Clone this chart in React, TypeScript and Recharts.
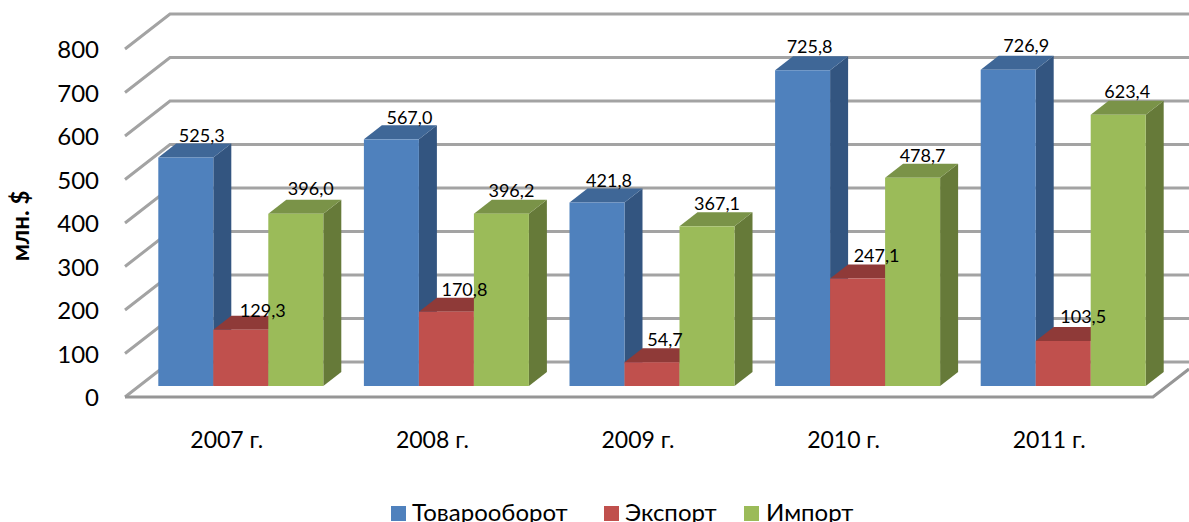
import * as React from "react";
import { BarChart, Bar, XAxis, YAxis, CartesianGrid, LabelList } from "recharts";

const categories = ["2007 г.", "2008 г.", "2009 г.", "2010 г.", "2011 г."];
const turnover = [525.3, 567.0, 421.8, 725.8, 726.9];
const exportValues = [129.3, 170.8, 54.7, 247.1, 103.5];
const importValues = [396.0, 396.2, 367.1, 478.7, 623.4];
const yTicks = [0, 100, 200, 300, 400, 500, 600, 700, 800];

const data = categories.map((name, i) => ({
  name,
  turnover: turnover[i],
  exportValue: exportValues[i],
  importValue: importValues[i],
}));

const FONT = "Lato, 'Open Sans', sans-serif";
const WIDTH = 1189;
const HEIGHT = 522;
const DEPTH_X = 18;
const DEPTH_Y = 14;

const COLORS = {
  turnover: { front: "#4f81bd", top: "#3f6797", side: "#335580" },
  exportValue: { front: "#c0504d", top: "#8f3a38", side: "#7d3331" },
  importValue: { front: "#9bbb59", top: "#7a9348", side: "#667a39" },
};

// the labels in the original were placed by hand, so each one has its own nudge
const NUDGE = {
  turnover: { x: [-2, 0, -6, -11, 0], y: [0, 0, -1, -2, -3] },
  exportValue: { x: [4, 0, -5, 1, 2], y: [2, -1, -1, -2, -3] },
  importValue: { x: [-3, -8, -8, -8, -9], y: [-4, -2, -1, -1, -2] },
};

const legendItems = [
  { name: "Товарооборот", color: COLORS.turnover.front, icon: 391, text: 412 },
  { name: "Экспорт", color: COLORS.exportValue.front, icon: 604, text: 625 },
  { name: "Импорт", color: COLORS.importValue.front, icon: 744, text: 766 },
];

// front face plus the two faces that give the bar its depth
function box3d(colors: { front: string; top: string; side: string }) {
  return (props: any) => {
    const { x, y, width, height } = props;
    const r = x + width;
    const b = y + height;
    return (
      <g>
        <polygon
          points={`${r},${y} ${r + DEPTH_X},${y - DEPTH_Y} ${r + DEPTH_X},${b - DEPTH_Y} ${r},${b}`}
          fill={colors.side}
        />
        <polygon
          points={`${x},${y} ${x + DEPTH_X},${y - DEPTH_Y} ${r + DEPTH_X},${y - DEPTH_Y} ${r},${y}`}
          fill={colors.top}
        />
        <rect x={x} y={y} width={width} height={height} fill={colors.front} />
      </g>
    );
  };
}

function gridLine(props: any) {
  const y = props.y1;
  const isFloor = y > 380;
  const front = y + 11;
  const back = y - 24;
  return (
    <g key={props.key ?? y} fill="none" stroke="#a3a3a3" strokeWidth={3}>
      <polyline points={`125,${front} 170,${back} ${WIDTH},${back}`} />
      {isFloor && <polyline points={`125,${front} 1153,${front} 1189,${front - 28}`} stroke="#969696" />}
    </g>
  );
}

function xTick(props: any) {
  return (
    <text x={props.x - 14} y={448} textAnchor="middle" fontSize={23} fontFamily={FONT} fill="#000">
      {props.payload.value}
    </text>
  );
}

function yTick(props: any) {
  return (
    <text x={99} y={props.y + 11 + 9} textAnchor="end" fontSize={24} fontFamily={FONT} fill="#000">
      {props.payload.value}
    </text>
  );
}

function valueLabel(nudge: { x: number[]; y: number[] }) {
  return (props: any) => {
    const { x, y, width, value, index } = props;
    return (
      <text
        x={x + width / 2 + 18 + nudge.x[index]}
        y={y - 15 + nudge.y[index]}
        textAnchor="middle"
        fontSize={18}
        fontFamily={FONT}
        fill="#000"
      >
        {Number(value).toFixed(1).replace(".", ",")}
      </text>
    );
  };
}

export default function App() {
  return (
    <div style={{ position: "absolute", left: 0, top: 0, width: WIDTH, height: HEIGHT, overflow: "hidden", background: "#fff" }}>
      <BarChart
        width={WIDTH}
        height={HEIGHT}
        data={data}
        margin={{ top: 38, right: 23, bottom: 76, left: 0 }}
        barCategoryGap={20.3}
        barGap={0}
      >
        <CartesianGrid vertical={false} horizontal={gridLine} />
        <XAxis dataKey="name" axisLine={false} tickLine={false} height={60} tick={xTick} />
        <YAxis
          domain={[0, 800]}
          ticks={yTicks}
          width={138}
          axisLine={false}
          tickLine={false}
          tick={yTick}
          label={{
            value: "млн. $",
            angle: -90,
            position: "insideLeft",
            dx: 15,
            dy: 14,
            style: { fontFamily: FONT, fontSize: 24, fontWeight: 700, fill: "#000", textAnchor: "middle" },
          }}
        />
        <Bar dataKey="turnover" isAnimationActive={false} shape={box3d(COLORS.turnover)}>
          <LabelList dataKey="turnover" content={valueLabel(NUDGE.turnover)} />
        </Bar>
        <Bar dataKey="exportValue" isAnimationActive={false} shape={box3d(COLORS.exportValue)}>
          <LabelList dataKey="exportValue" content={valueLabel(NUDGE.exportValue)} />
        </Bar>
        <Bar dataKey="importValue" isAnimationActive={false} shape={box3d(COLORS.importValue)}>
          <LabelList dataKey="importValue" content={valueLabel(NUDGE.importValue)} />
        </Bar>
      </BarChart>
      {legendItems.map((item) => (
        <React.Fragment key={item.name}>
          <div style={{ position: "absolute", left: item.icon, top: 506, width: 15, height: 15, background: item.color }} />
          <div style={{ position: "absolute", left: item.text, top: 498, fontFamily: FONT, fontSize: 24, lineHeight: "28px", color: "#000", whiteSpace: "nowrap" }}>
            {item.name}
          </div>
        </React.Fragment>
      ))}
    </div>
  );
}
